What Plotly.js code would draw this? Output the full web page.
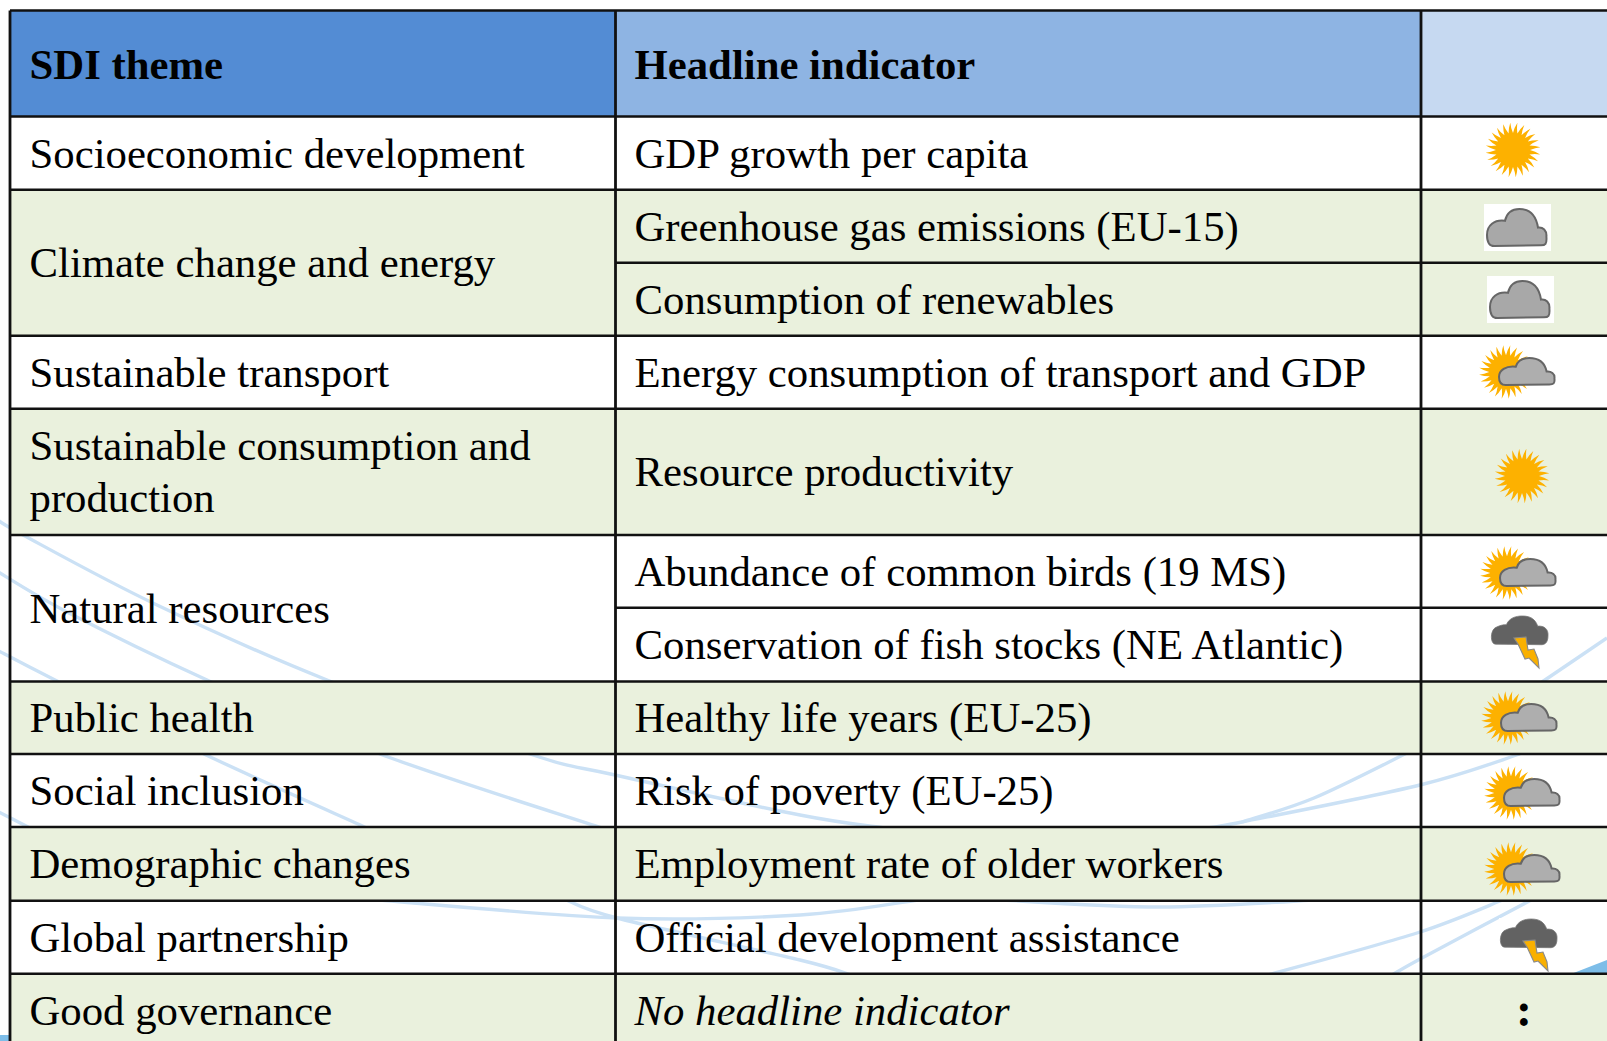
<!DOCTYPE html>
<html>
<head>
<meta charset="utf-8">
<script src="https://cdn.plot.ly/plotly-3.0.1.min.js"></script>
<style>html,body{margin:0;padding:0;background:#fff}#chart{width:1607px;height:1041px}</style>
</head>
<body>
<div id="chart"></div>
<script>
// ---- Table content ----
const headers = ["SDI theme", "Headline indicator", ""];
const themes = [
  ["Socioeconomic development"],
  ["Climate change and energy"],
  ["Sustainable transport"],
  ["Sustainable consumption and", "production"],
  ["Natural resources"],
  ["Public health"],
  ["Social inclusion"],
  ["Demographic changes"],
  ["Global partnership"],
  ["Good governance"]
];
const themeSpans = [1, 2, 1, 1, 2, 1, 1, 1, 1, 1];
const indicators = [
  "GDP growth per capita",
  "Greenhouse gas emissions (EU-15)",
  "Consumption of renewables",
  "Energy consumption of transport and GDP",
  "Resource productivity",
  "Abundance of common birds (19 MS)",
  "Conservation of fish stocks (NE Atlantic)",
  "Healthy life years (EU-25)",
  "Risk of poverty (EU-25)",
  "Employment rate of older workers",
  "Official development assistance",
  "<i>No headline indicator</i>"
];
const statuses = ["sun","cloud","cloud","suncloud","sun","suncloud","storm","suncloud","suncloud","suncloud","storm","none"];

// ---- Geometry (axis units = reference pixels) ----
const W = 1607, H = 1041;
const columnEdges = [10, 615.5, 1421, 1607];
const headerEdges = [10.5, 116.5];
const rowEdges = [116.5, 189.7, 262.7, 335.7, 408.7, 535, 607.7, 681.5, 754, 827, 900.7, 973.7, 1046.5];
const iconX = [1513, 1487, 1490, 1506, 1522, 1507, 1491, 1508, 1511, 1511, 1500, 1524];
const iconY = [150, 209, 281, 372, 476, 573, 616, 718, 793, 869, 919, 1014];
const themeFillFlags = [0, 1, 0, 1, 0, 1, 0, 1, 0, 1];
const headerColors = ["#538CD4", "#8EB4E3", "#C6D9F1"];
const GREEN = "#EAF1DD", LINE = "#111111", ARC = "#CBE1F5", SKY = "#7DBDE8";
const FONT = "'Liberation Serif','Times New Roman',serif";
const FS = 42.75, LINE_GAP = 52, TEXT_SHIFT = 3.8;

// Decorative background sweep behind the transparent table cells
const arcs = [
  [[-5,518],[23,535],[157,605],[327,680],[530,754],[615,775],[800,815],[885,828]],
  [[-5,570],[67,612],[207,680],[380,754],[602,828]],
  [[-5,649],[55,680],[204,754],[367,828]],
  [[-5,810],[30,828]],
  [[367,899],[617,918],[800,915],[918,900]],
  [[985,899],[1160,907],[1330,899]],
  [[564,899],[617,918],[800,960],[851,975]],
  [[1206,828],[1242,822],[1420,785],[1520,754]],
  [[1242,822],[1314,798],[1407,753]],
  [[1268,975],[1417,933],[1505,899]],
  [[1392,975],[1422,958],[1533,899]],
  [[1542,682],[1607,638]]
];

// ---- Shape helpers ----
function smoothPath(p) {
  let d = `M${p[0][0]},${p[0][1]}`;
  for (let i = 0; i < p.length - 1; i++) {
    const a = p[Math.max(i-1,0)], b = p[i], c = p[i+1], e = p[Math.min(i+2,p.length-1)];
    d += ` C${b[0]+(c[0]-a[0])/6},${b[1]+(c[1]-a[1])/6} ${c[0]-(e[0]-b[0])/6},${c[1]-(e[1]-b[1])/6} ${c[0]},${c[1]}`;
  }
  return d;
}
function rect(x0,x1,y0,y1,color) {
  return {type:"rect",xref:"x",yref:"y",x0,x1,y0,y1,fillcolor:color,line:{width:0},layer:"below"};
}
function hline(x0,x1,y,w) {
  return {type:"line",xref:"x",yref:"y",x0,x1,y0:y,y1:y,line:{color:LINE,width:w||2.4},layer:"below"};
}
function vline(x,y0,y1,w) {
  return {type:"line",xref:"x",yref:"y",x0:x,x1:x,y0,y1,line:{color:LINE,width:w||2.8},layer:"below"};
}
function pathShape(d,fill,stroke,w) {
  return {type:"path",xref:"x",yref:"y",path:d,fillcolor:fill||"rgba(0,0,0,0)",
          line:{color:stroke||"rgba(0,0,0,0)",width:w===undefined?0:w},layer:"below"};
}
// Cubic glyph outlines in unit box
const cloudOutline = [
  ["M",.12,1],["C",.03,1,0,.9,0,.7],["C",0,.45,.12,.28,.3,.32],["C",.33,.1,.42,0,.54,0],
  ["C",.72,0,.82,.2,.85,.5],["C",.93,.48,1,.58,.99,.75],["C",1,.95,.97,.98,.9,.98]
];
const stormOutline = [
  ["M",.08,.97],["C",-.02,.97,-.02,.45,.1,.38],["C",.18,.3,.24,.3,.27,.3],["C",.32,.06,.44,0,.55,0],
  ["C",.7,0,.78,.12,.82,.35],["C",.93,.33,1.01,.45,1,.68],["C",1,.95,.93,.99,.88,.99]
];
const boltOutline = [[23,22],[35,21],[37,34],[43,33],[47,43],[48,52],[38,42],[34,43],[27,28]];
function glyphPath(o,x,y,w,h) {
  return o.map(s => {
    let r = s[0];
    for (let i = 1; i < s.length; i += 2) r += (i>1?" ":"") + (x+s[i]*w) + "," + (y+s[i+1]*h);
    return r;
  }).join(" ") + " Z";
}
function sunPath(cx,cy,R) {
  const rays = 24, inner = R*0.62, step = 2*Math.PI/rays;
  let d = "";
  for (let i = 0; i < rays; i++) {
    const a = i*step, tip = a+step*0.62, b = a+step;
    const p0 = [cx+inner*Math.cos(a), cy+inner*Math.sin(a)];
    const t = [cx+R*Math.cos(tip), cy+R*Math.sin(tip)];
    const m = (inner+R)/2;
    const q = [cx+m*Math.cos(a+step*0.22), cy+m*Math.sin(a+step*0.22)];
    const q2 = [cx+m*Math.cos(a+step*0.62), cy+m*Math.sin(a+step*0.62)];
    const p1 = [cx+inner*Math.cos(b), cy+inner*Math.sin(b)];
    d += (i===0?`M${p0[0]},${p0[1]}`:"") + ` Q${q[0]},${q[1]} ${t[0]},${t[1]} Q${q2[0]},${q2[1]} ${p1[0]},${p1[1]}`;
  }
  return d + " Z";
}
function iconShapes(kind,x,y) {
  const out = [], SUN = "#FDB100";
  if (kind === "sun") {
    out.push(pathShape(sunPath(x,y,27.5),SUN));
  } else if (kind === "cloud") {
    out.push(rect(x-3,x+64,y-5,y+42,"#FFFFFF"));
    out.push(pathShape(glyphPath(cloudOutline,x,y,60,37),"#A8A8A8","#666666",2));
  } else if (kind === "suncloud") {
    out.push(pathShape(sunPath(x,y,27),SUN));
    out.push(pathShape(glyphPath(cloudOutline,x-7,y-14,56,27),"#AEAEAE","#666666",2));
  } else if (kind === "storm") {
    out.push(rect(x-1,x+56,y-1,y+52,"#FFFFFF"));
    out.push(pathShape(glyphPath(stormOutline,x,y,57,29),"#626262","#777777",0.8));
    out.push(pathShape("M"+boltOutline.map(p=>(x+p[0])+","+(y+p[1])).join(" L")+" Z","#F9B000","#8A8A8A",1.1));
  }
  return out;
}

// ---- Assemble shapes (order = paint order) ----
const shapes = [];
arcs.forEach(a => shapes.push({type:"path",xref:"x",yref:"y",path:smoothPath(a),
  line:{color:ARC,width:3.4},fillcolor:"rgba(0,0,0,0)",layer:"below"}));
shapes.push(pathShape("M1571,974 L1607,960 L1607,974 Z",SKY));
shapes.push(rect(0,9,1035,1041,SKY));

let rowCursor = 0;
const themeTextX = [], themeTextY = [], themeText = [];
themes.forEach((lines,i) => {
  const top = rowEdges[rowCursor], bottom = rowEdges[rowCursor+themeSpans[i]];
  if (themeFillFlags[i]) shapes.push(rect(columnEdges[0],W,top,bottom,GREEN));
  const mid = (top+bottom)/2;
  lines.forEach((ln,k) => {
    themeTextX.push(29.5); themeText.push(ln);
    themeTextY.push(mid + (k-(lines.length-1)/2)*LINE_GAP + TEXT_SHIFT);
  });
  rowCursor += themeSpans[i];
});
headerColors.forEach((c,i) => shapes.push(rect(columnEdges[i],columnEdges[i+1],headerEdges[0],headerEdges[1],c)));

// horizontal rules
shapes.push(hline(columnEdges[0],W,headerEdges[0]));
shapes.push(hline(columnEdges[0],W,headerEdges[1]));
rowCursor = 0;
const themeBoundaries = new Set();
themeSpans.forEach(s => { rowCursor += s; themeBoundaries.add(rowCursor); });
rowEdges.slice(1,-1).forEach((y,i) => {
  const idx = i+1;
  shapes.push(hline(themeBoundaries.has(idx)?columnEdges[0]:columnEdges[1],W,y));
});
columnEdges.slice(0,3).forEach(x => shapes.push(vline(x,headerEdges[0],H)));

statuses.forEach((s,i) => iconShapes(s,iconX[i],iconY[i]).forEach(o => shapes.push(o)));

// ---- Traces: all cell text, placed through the axes ----
const indicatorY = indicators.map((_,i) => (rowEdges[i]+rowEdges[i+1])/2 + TEXT_SHIFT);
const textTrace = (x,y,text,extra) => Object.assign({
  type:"scatter",mode:"text",x,y,text,textposition:"middle right",cliponaxis:false,
  textfont:{family:FONT,size:FS,color:"#000000"},hoverinfo:"skip",showlegend:false
},extra||{});
const headerMid = (headerEdges[0]+headerEdges[1])/2 + TEXT_SHIFT + 1;

const traces = [
  textTrace([29.5,634.5],[headerMid,headerMid],headers.slice(0,2).map(h=>"<b>"+h+"</b>")),
  textTrace(themeTextX,themeTextY,themeText),
  textTrace(indicators.map(()=>634.5),indicatorY,indicators),
  textTrace([iconX[11]],[iconY[11]],[":"],{textposition:"middle center",
    textfont:{family:FONT,size:48,color:"#000000",weight:700}})
];

Plotly.newPlot("chart",traces,{
  width:W,height:H,margin:{l:0,r:0,t:0,b:0},
  paper_bgcolor:"#FFFFFF",plot_bgcolor:"rgba(0,0,0,0)",showlegend:false,
  xaxis:{range:[0,W],visible:false,fixedrange:true},
  yaxis:{range:[H,0],visible:false,fixedrange:true},
  shapes
},{displayModeBar:false,staticPlot:true});
</script>
</body>
</html>
